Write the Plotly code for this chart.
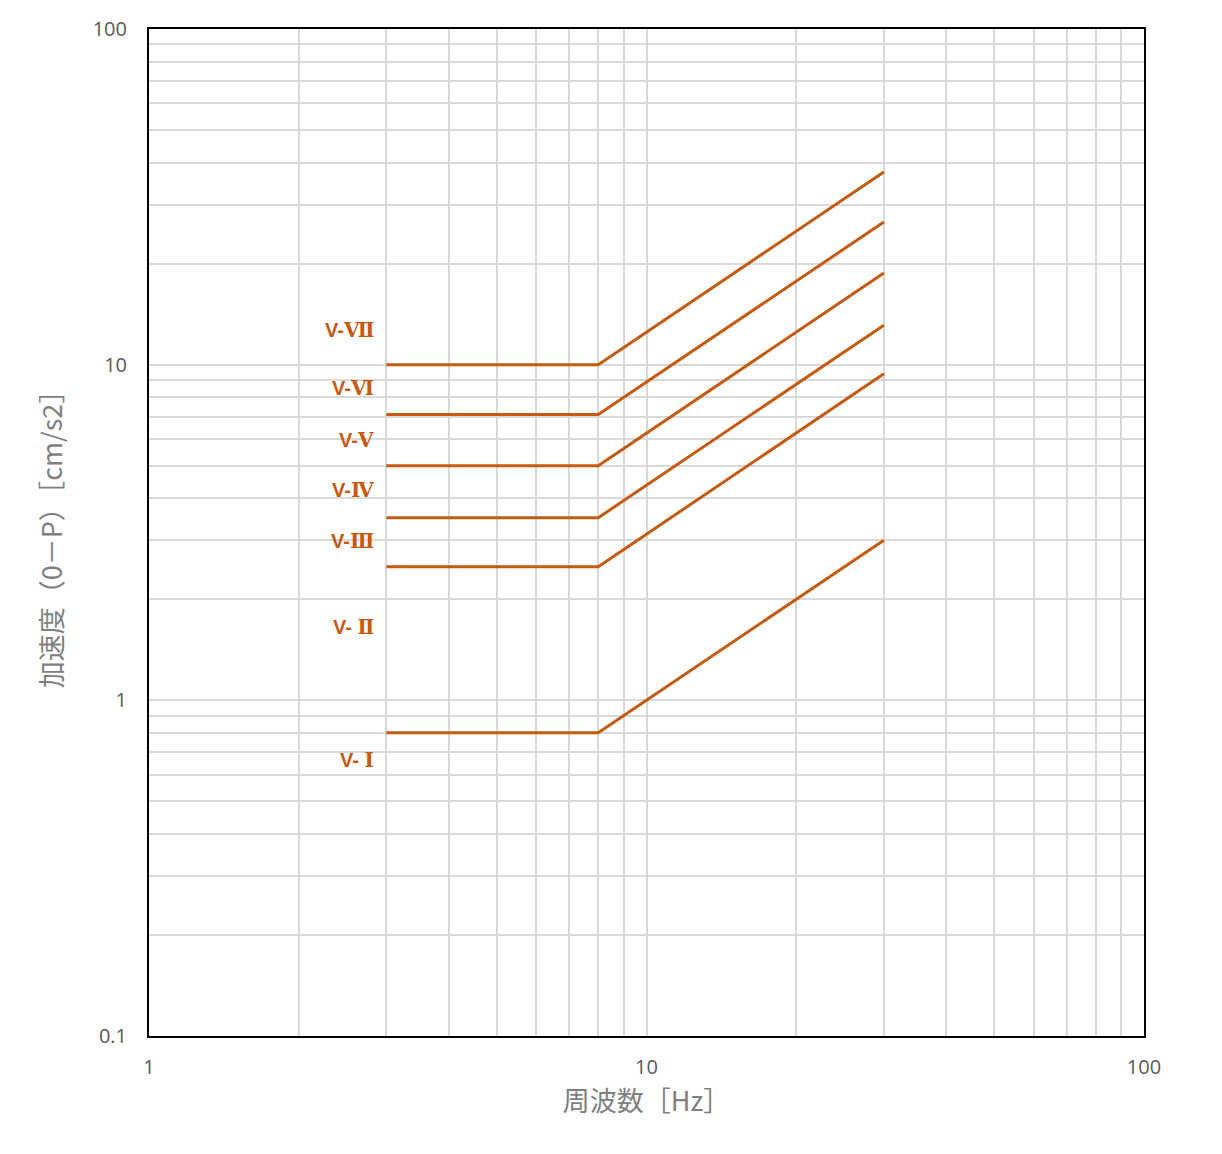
import math
import plotly.graph_objects as go

freq = [3, 8, 30]
series_names = ["V-Ⅰ", "V-Ⅲ", "V-Ⅳ", "V-Ⅴ", "V-Ⅵ", "V-Ⅶ"]
series_values = [
    [0.8, 0.8, 3.0],
    [2.5, 2.5, 9.4],
    [3.5, 3.5, 13.1],
    [5.0, 5.0, 18.75],
    [7.1, 7.1, 26.6],
    [10.0, 10.0, 37.5],
]
label_prefix = ["V-", "V-", "V-", "V-", "V-", "V- ", "V- "]
label_numeral = ["Ⅶ", "Ⅵ", "Ⅴ", "Ⅳ", "Ⅲ", "Ⅱ", "Ⅰ"]
label_y = [12.69, 8.52, 5.97, 4.23, 2.98, 1.654, 0.664]
label_x = 2.86

x_ticks = [1, 10, 100]
x_ticktext = ["1", "10", "100"]
y_ticks = [0.1, 1, 10, 100]
y_ticktext = ["0.1", "1", "10", "100"]
minor_x = [m * d for d in [1, 10] for m in range(2, 10)]
minor_y = [m * d for d in [0.1, 1, 10] for m in range(2, 10)]

color = "#C55A11"
grid = "#D9D9D9"

fig = go.Figure()
for name, vals in zip(series_names, series_values):
    fig.add_trace(go.Scatter(x=freq, y=vals, mode="lines", name=name,
                             line=dict(color=color, width=3), showlegend=False))

for pre, num, yv in zip(label_prefix, label_numeral, label_y):
    txt = pre + "<span style=\"font-family:'DejaVu Serif'\">" + num + "</span>"
    fig.add_annotation(x=math.log10(label_x), y=math.log10(yv), xref="x", yref="y",
                       text=txt, showarrow=False, xanchor="right", yanchor="middle",
                       font=dict(family="Liberation Sans", size=20, color=color,
                                 weight="bold"))

axis_common = dict(
    type="log", automargin=False,
    showgrid=True, gridcolor=grid, gridwidth=2,
    showline=True, linecolor="#000000", linewidth=2, mirror=True,
    ticks="", zeroline=False,
    tickfont=dict(family="Open Sans", size=20, color="#595959"),
    title_font=dict(family="Noto Sans CJK JP", size=27, color="#7F7F7F"),
)

fig.update_xaxes(**axis_common, range=[0, 2], tickmode="array", tickvals=x_ticks,
                 ticktext=x_ticktext, ticklabelstandoff=12,
                 minor=dict(tickmode="array", tickvals=minor_x, showgrid=True,
                            gridcolor=grid, gridwidth=2, ticks=""),
                 title_text="周波数［Hz］", title_standoff=10)
fig.update_yaxes(**axis_common, range=[-1, 2], tickmode="array", tickvals=y_ticks,
                 ticktext=y_ticktext, ticklabelstandoff=16,
                 minor=dict(tickmode="array", tickvals=minor_y, showgrid=True,
                            gridcolor=grid, gridwidth=2, ticks=""),
                 title_text="加速度（0－P）［cm/s2］", title_standoff=22)

fig.update_layout(
    width=1206, height=1138,
    margin=dict(l=141, r=70, t=21, b=110),
    plot_bgcolor="white", paper_bgcolor="white",
)

fig.write_html("out.html")
